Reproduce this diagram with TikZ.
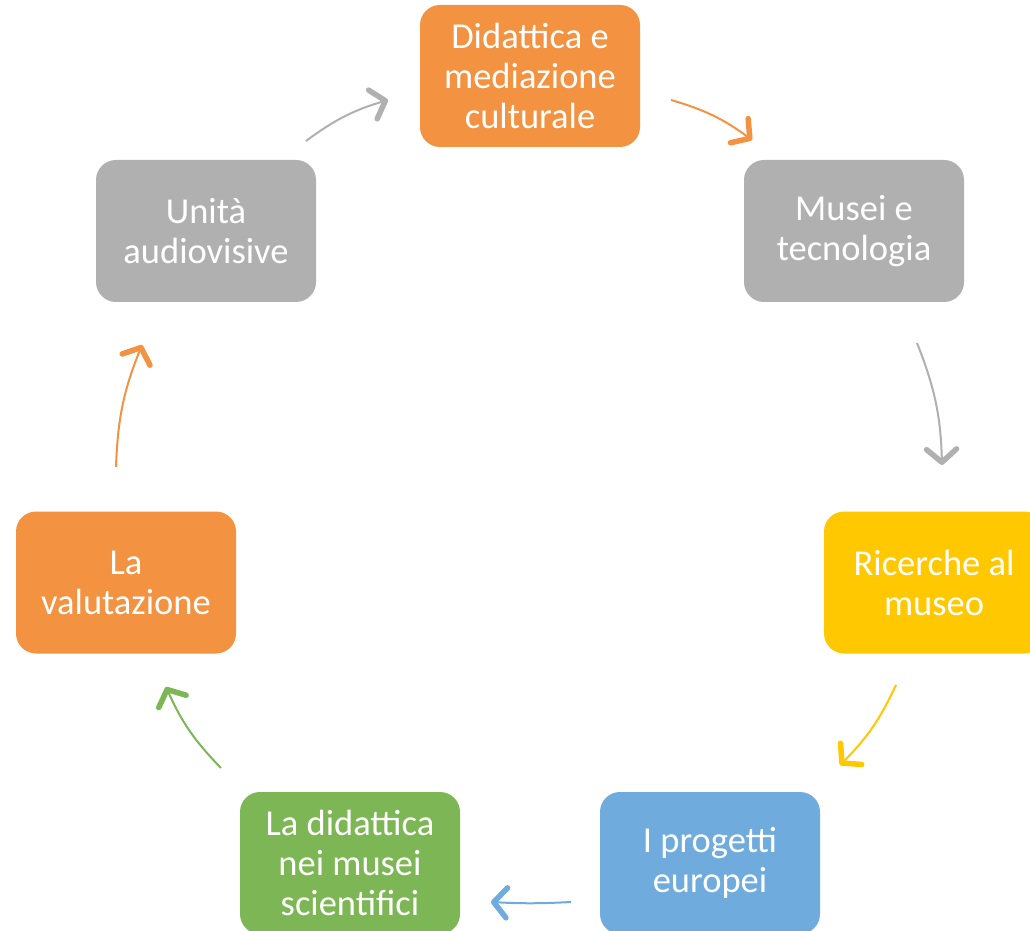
\documentclass[tikz,border=0pt]{standalone}
\usepackage{fontspec}
\setmainfont{Carlito}
\usetikzlibrary{arrows.meta}
\definecolor{cOrange}{RGB}{243,146,65}
\definecolor{cGray}{RGB}{176,176,176}
\definecolor{cYellow}{RGB}{255,200,0}
\definecolor{cBlue}{RGB}{111,171,221}
\definecolor{cGreen}{RGB}{125,183,85}
\tikzset{
  box/.style={fill=#1, draw=none, rounded corners=20pt, minimum width=220pt, minimum height=142pt,
    inner sep=0pt, align=center, text=white, font=\fontsize{36.5}{40}\selectfont},
  flow/.style={draw=#1, line width=2pt, bend left=10,
    -{Straight Barb[length=13pt,width=30pt,line width=5.5pt,round]}},
}
\begin{document}
\begin{tikzpicture}[x=1pt,y=1pt]
\clip (0,0) rectangle (1030,930);
\fill[white] (0,0) rectangle (1030,930);
\node[box=cOrange] (did) at (530,854) {Didattica e\\mediazione\\culturale};
\node[box=cGray] (mus) at (854,699) {Musei e\\tecnologia};
\node[box=cYellow] (ric) at (934,347.5) {Ricerche al\\museo};
\node[box=cBlue] (pro) at (710,67) {I progetti\\europei};
\node[box=cGreen] (sci) at (350,67) {La didattica\\nei musei\\scientifici};
\node[box=cOrange] (val) at (126,347.5) {La\\valutazione};
\node[box=cGray] (uni) at (206,699) {Unità\\audiovisive};
\coordinate (a1s) at (306,789); \coordinate (a1e) at (388,830);
\coordinate (a2s) at (671,830); \coordinate (a2e) at (752,790);
\coordinate (a3s) at (917,587); \coordinate (a3e) at (942,465);
\coordinate (a4s) at (896,245); \coordinate (a4e) at (840,165);
\coordinate (a5s) at (571,28);  \coordinate (a5e) at (491,28);
\coordinate (a6s) at (221,162); \coordinate (a6e) at (166,243);
\coordinate (a7s) at (116,463); \coordinate (a7e) at (142,585);
\draw[flow=cGray] (a1s) to (a1e);
\draw[flow=cOrange] (a2s) to (a2e);
\draw[flow=cGray] (a3s) to (a3e);
\draw[flow=cYellow] (a4s) to (a4e);
\draw[flow=cBlue] (a5s) to[bend left=3] (a5e);
\draw[flow=cGreen] (a6s) to (a6e);
\draw[flow=cOrange] (a7s) to (a7e);
\end{tikzpicture}
\end{document}
